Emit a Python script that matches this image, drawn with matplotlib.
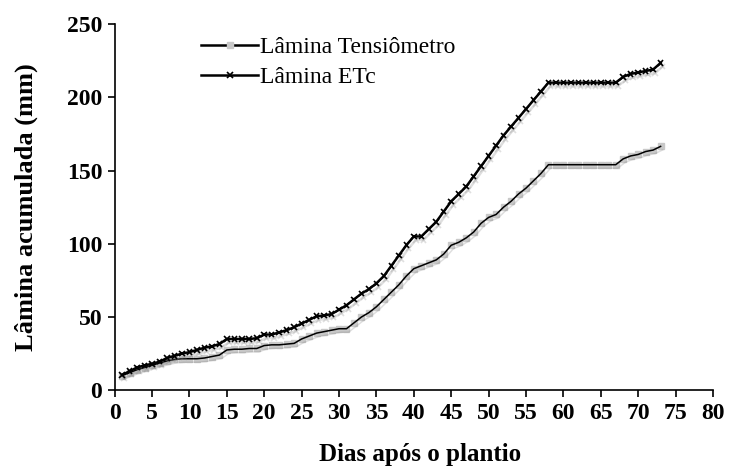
import numpy as np
import matplotlib
matplotlib.use("Agg")
import matplotlib.pyplot as plt
import matplotlib.patheffects as pe

plt.rcParams['font.family'] = ['Liberation Serif', 'DejaVu Serif']

# dias após o plantio
dias = list(range(1, 74))

# lâmina acumulada pelo tensiômetro (mm)
tensiometro = [10, 12, 14, 15.5, 17, 18.5, 20, 21, 21.5, 21.5,
               21.5, 22, 23, 24, 27.5, 28, 28, 28.5, 28.5, 30.5,
               31, 31, 31.5, 32, 35, 37, 39, 40, 41, 42,
               42, 46, 50, 53, 57, 62, 67, 72, 78, 83,
               85, 87, 89, 93, 99, 101, 104, 108, 114, 118,
               120, 125, 129, 134, 138, 143, 148, 154, 154, 154,
               154, 154, 154, 154, 154, 154, 154, 158, 160, 161,
               163, 164, 166.5]

# lâmina acumulada pela ETc (mm)
etc = [10.5, 13, 15.5, 17, 18, 19.5, 22, 23.5, 25, 26,
       27.5, 29, 30, 31.5, 35, 35, 35, 35, 35.5, 38,
       38, 39.5, 41, 43, 45.5, 48, 50.5, 51, 52, 55,
       58, 62, 66, 69, 73, 78, 85, 92, 99, 105,
       105, 110, 115, 122, 129, 134, 139, 146, 153, 160,
       167, 174, 180, 186, 192, 198, 204, 210, 210, 210,
       210, 210, 210, 210, 210, 210, 210, 214, 216, 217,
       218, 219, 223.5]

fig = plt.figure(figsize=(7.35, 4.73), dpi=100)
ax = fig.add_axes([0.156, 0.175, 0.814, 0.774])

sombra = [pe.SimpleLineShadow(offset=(1.5, -2.5), shadow_color='gray', alpha=0.25), pe.Normal()]

# tensiômetro: quadrados cinza com linha preta por cima
ax.plot(dias, tensiometro, linestyle='none', marker='s', markersize=5,
        markerfacecolor='#c8c8c8', markeredgecolor='#c8c8c8', zorder=2)
ax.plot(dias, tensiometro, color='black', linewidth=1.1, zorder=3,
        path_effects=sombra)

ax.plot(dias, etc, color='black', linewidth=1.8, marker='x', markersize=4,
        markeredgewidth=1.2, zorder=4, path_effects=sombra)

# legenda
h1, = ax.plot([], [], color='black', linewidth=1.8, marker='s', markersize=5,
              markerfacecolor='#c8c8c8', markeredgecolor='#c8c8c8')
h2, = ax.plot([], [], color='black', linewidth=1.8, marker='x', markersize=4,
              markeredgewidth=1.2)
ax.legend([h1, h2], ['Lâmina Tensiômetro', 'Lâmina ETc'], loc='upper left',
          bbox_to_anchor=(0.145, 0.965), frameon=False, fontsize=17,
          handlelength=2.4, handletextpad=0.1, labelspacing=0.35,
          borderpad=0, borderaxespad=0)

ax.set_xlim(0, 80)
ax.set_ylim(0, 250)
ax.set_xticks(np.arange(0, 81, 5))
ax.set_yticks(np.arange(0, 251, 50))
for s in ['top', 'right']:
    ax.spines[s].set_visible(False)
for s in ['left', 'bottom']:
    ax.spines[s].set_linewidth(1.2)
ax.tick_params(direction='out', length=5, width=1.2, labelsize=17, pad=4)
for lab in ax.get_xticklabels() + ax.get_yticklabels():
    lab.set_fontweight('bold')

ax.set_xlabel('Dias após o plantio', fontsize=18, fontweight='bold')
ax.set_ylabel('Lâmina acumulada (mm)', fontsize=19, fontweight='bold')
ax.xaxis.set_label_coords(0.51, -0.145)
ax.yaxis.set_label_coords(-0.128, 0.5)

fig.savefig('out.png', dpi=100)
